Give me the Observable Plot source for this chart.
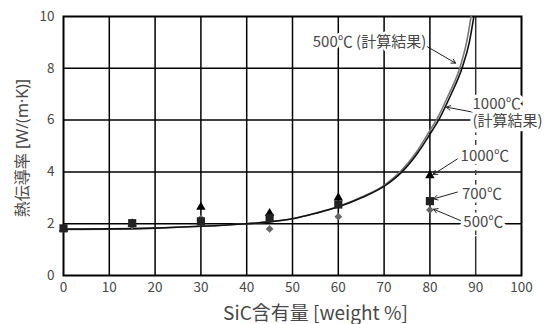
<!DOCTYPE html>
<html>
<head>
<meta charset="utf-8">
<script src="https://cdn.jsdelivr.net/npm/d3@7"></script>
<script src="https://cdn.jsdelivr.net/npm/@observablehq/plot@0.6"></script>
<style>
  html, body { margin: 0; padding: 0; background: #fff; }
  #chart svg { display: block; }
</style>
</head>
<body>
<div id="chart"></div>
<script>
// SiC content (weight %) of the measured samples
const sicContent = [0, 15, 30, 45, 60, 80];
// Measured thermal conductivity [W/(m·K)]
const measured1000 = [1.80, 2.00, 2.64, 2.40, 3.00, 3.86];
const measured700  = [1.82, 2.02, 2.09, 2.22, 2.74, 2.87];
const measured500  = [1.80, 1.93, 2.20, 1.80, 2.27, 2.53];

// Calculated curves
const calc500X  = [0, 10, 20, 30, 40, 45, 50, 55, 60, 65, 70, 73.5, 77, 80, 81.4, 84, 86.5, 88, 89];
const calc500Y  = [1.78, 1.79, 1.83, 1.90, 2.00, 2.07, 2.19, 2.40, 2.66, 3.02, 3.48, 4.0, 4.75, 5.6, 6.0, 6.95, 8.0, 9.0, 10];
const calc1000X = [0, 10, 20, 30, 40, 45, 50, 55, 60.2, 65.3, 70.3, 73.9, 77.4, 80.5, 81.9, 84.5, 87, 88.6, 89.6];
const calc1000Y = [1.79, 1.80, 1.83, 1.90, 2.00, 2.07, 2.19, 2.40, 2.66, 3.02, 3.48, 4.0, 4.75, 5.6, 6.0, 6.95, 8.0, 9.0, 10];

// Axis ticks
const xTicks = [0, 10, 20, 30, 40, 50, 60, 70, 80, 90, 100];
const yTicks = [0, 2, 4, 6, 8, 10];
const xGrid = [10, 20, 30, 40, 50, 60, 70, 80];
const yGrid = [2, 4, 6, 8];

// The 90 % grid line: solid ends, dashed middle
const grid90Solid  = [{x: 90, y1: 10, y2: 5.6}, {x: 90, y1: 1.5, y2: 0}];
const grid90Dashed = [{x: 90, y1: 5.6, y2: 1.5}];

// Annotations
const labelText   = ["500℃ (計算結果)", "1000℃\n(計算結果)", "1000℃", "700℃", "500℃"];
const labelX      = [79.2, 89.3, 86.7, 87.0, 87.3];
const labelY      = [9.0, 6.32, 4.63, 3.18, 2.10];
const labelAnchor = ["end", "start", "start", "start", "start"];
const arrowFromX = [78.6, 89.6, 86.0, 86.0, 86.7];
const arrowFromY = [8.92, 6.30, 4.50, 3.22, 2.12];
const arrowToX   = [85.6, 83.6, 80.7, 80.8, 80.8];
const arrowToY   = [8.20, 6.50, 3.90, 2.96, 2.56];

const toPoints = (xs, ys) => xs.map((x, i) => ({x, y: ys[i]}));
const calc500 = toPoints(calc500X, calc500Y);
const calc1000 = toPoints(calc1000X, calc1000Y);
const pts1000 = toPoints(sicContent, measured1000);
const pts700 = toPoints(sicContent, measured700);
const pts500 = toPoints(sicContent, measured500);
const labels = labelText.map((t, i) => ({t, x: labelX[i], y: labelY[i], a: labelAnchor[i]}));
const arrows = arrowFromX.map((x1, i) => ({x1, y1: arrowFromY[i], x2: arrowToX[i], y2: arrowToY[i]}));

const font = "'Noto Sans CJK JP', 'Noto Sans', sans-serif";
const latinFirst = "'Noto Sans', 'Noto Sans CJK JP', sans-serif";
const textFill = "#484848";

const chart = Plot.plot({
  width: 554,
  height: 324,
  marginLeft: 63,
  marginRight: 33,
  marginTop: 16,
  marginBottom: 49,
  style: {fontFamily: font, background: "#fff"},
  x: {domain: [0, 100]},
  y: {domain: [0, 10]},
  marks: [
    Plot.gridX(xGrid, {stroke: "#000", strokeOpacity: 1, strokeWidth: 1.5}),
    Plot.gridY(yGrid, {stroke: "#000", strokeOpacity: 1, strokeWidth: 1.5}),
    Plot.ruleX(grid90Solid, {x: "x", y1: "y1", y2: "y2", stroke: "#333", strokeWidth: 1.5}),
    Plot.ruleX(grid90Dashed, {x: "x", y1: "y1", y2: "y2", stroke: "#444", strokeWidth: 1.5, strokeDasharray: "5,5"}),
    Plot.frame({stroke: "#000", strokeWidth: 2}),
    Plot.axisX(xTicks, {tickSize: 0, tickPadding: 7, fontSize: 13.5, fill: textFill, label: null}),
    Plot.axisY(yTicks, {tickSize: 0, tickPadding: 9, fontSize: 13.5, fill: textFill, label: null}),
    Plot.text(["SiC含有量 [weight %]"], {frameAnchor: "bottom", textAnchor: "middle", lineAnchor: "middle",
      dx: 23, dy: 38, fontSize: 19, fill: textFill}),
    Plot.text(["熱伝導率 [W/(m·K)]"], {frameAnchor: "left", textAnchor: "middle", lineAnchor: "middle",
      dx: -41, dy: 2, rotate: -90, fontSize: 16, fontFamily: latinFirst, fill: textFill}),
    Plot.line(calc500, {x: "x", y: "y", curve: "monotone-x", stroke: "#777", strokeWidth: 1.6}),
    Plot.line(calc1000, {x: "x", y: "y", curve: "monotone-x", stroke: "#111", strokeWidth: 1.6}),
    Plot.dot(pts500, {x: "x", y: "y", symbol: "diamond2", r: 3.5, fill: "#666", stroke: "none"}),
    Plot.dot(pts1000, {x: "x", y: "y", symbol: "triangle", r: 3.5, fill: "#000", stroke: "none"}),
    Plot.dot(pts700, {x: "x", y: "y", symbol: "square", r: 4.6, fill: "#222", stroke: "none"}),
    Plot.arrow(arrows, {x1: "x1", y1: "y1", x2: "x2", y2: "y2", stroke: "#222", strokeWidth: 1, headLength: 7}),
    Plot.text(labels, {x: "x", y: "y", text: "t", textAnchor: "start", filter: d => d.a === "start",
      fontSize: 15, lineHeight: 1.15, fill: textFill, stroke: "#fff", strokeWidth: 7}),
    Plot.text(labels, {x: "x", y: "y", text: "t", textAnchor: "end", filter: d => d.a === "end",
      fontSize: 15, fill: textFill, stroke: "#fff", strokeWidth: 5})
  ]
});

document.getElementById("chart").append(chart);
</script>
</body>
</html>
